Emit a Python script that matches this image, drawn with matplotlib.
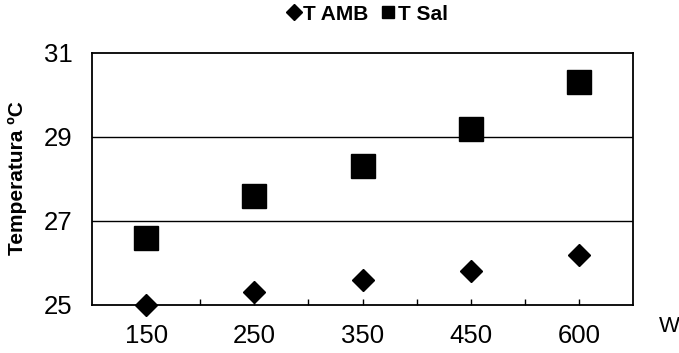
import numpy as np
import matplotlib
matplotlib.use("Agg")
import matplotlib.pyplot as plt
from matplotlib.lines import Line2D
from matplotlib.ticker import FixedLocator

plt.rcParams['font.family'] = ['Liberation Sans', 'DejaVu Sans']

power_labels = ["150", "250", "350", "450", "600"]
t_amb = [25.0, 25.3, 25.6, 25.8, 26.2]
t_sal = [26.6, 27.6, 28.3, 29.2, 30.3]
y_ticks = [25, 27, 29, 31]

W, H = 679, 353
fig = plt.figure(figsize=(W / 100, H / 100), dpi=100)
left, right, top, bottom = 92, 633, 53, 305
ax = fig.add_axes([left / W, 1 - bottom / H, (right - left) / W, (bottom - top) / H])

x = np.arange(len(power_labels))
ax.plot(x, t_sal, linestyle='none', marker='s', ms=17, color='black',
        mec='black', clip_on=False, zorder=5)
ax.plot(x, t_amb, linestyle='none', marker='D', ms=11.7, color='black',
        mec='black', clip_on=False, zorder=5)

ax.set_xlim(-0.5, len(power_labels) - 0.5)
ax.set_ylim(y_ticks[0], y_ticks[-1])

ax.set_xticks(x)
ax.set_xticklabels(power_labels, fontsize=18.5)
ax.xaxis.set_minor_locator(FixedLocator(x[:-1] + 0.5))
ax.tick_params(axis='x', which='both', direction='in', length=4, width=1,
               color='black', pad=14)

ax.set_yticks(y_ticks)
ax.set_yticklabels([str(v) for v in y_ticks], fontsize=18.5)
ax.tick_params(axis='y', length=0, pad=14)

for v in y_ticks[1:-1]:
    ax.axhline(v, color='black', linewidth=1, zorder=1)

for s in ax.spines.values():
    s.set_color('black')
    s.set_linewidth(1.3)

fig.text(17 / W, 1 - 178 / H, "Temperatura ºC", rotation=90, ha='center',
         va='center', fontsize=15, fontweight='bold')
fig.text(669 / W, 1 - 327 / H, "W", ha='center', va='center', fontsize=16)

handles = [
    Line2D([], [], linestyle='none', marker='D', ms=8.3, color='black'),
    Line2D([], [], linestyle='none', marker='s', ms=9, color='black'),
]
fig.legend(handles, ["T AMB", "T Sal"], loc='center',
           bbox_to_anchor=(367 / W, 1 - 14 / H), ncol=2, frameon=False,
           handlelength=0.7, handletextpad=0.1, columnspacing=0.6,
           borderpad=0, prop={'size': 15, 'weight': 'bold'})

fig.savefig("out.png", dpi=100, facecolor='white')
